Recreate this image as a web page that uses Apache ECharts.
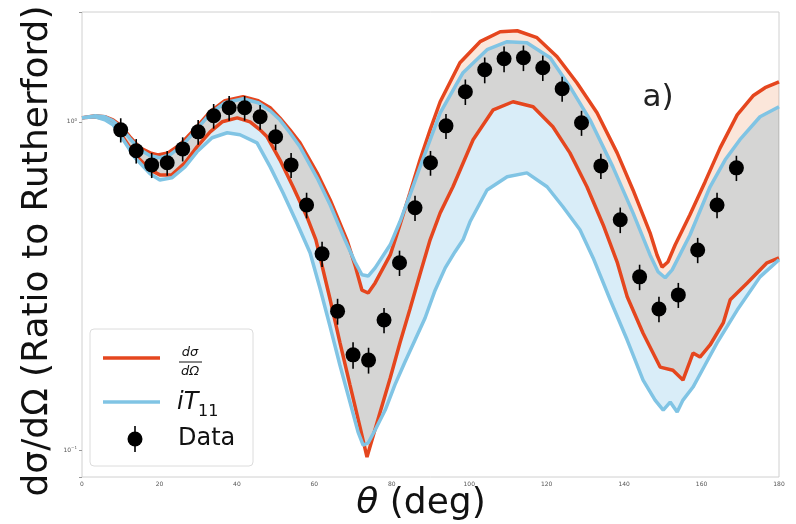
<!DOCTYPE html>
<html>
<head>
<meta charset="utf-8">
<script src="https://cdn.jsdelivr.net/npm/echarts@6/dist/echarts.min.js"></script>
<style>
  html, body { margin: 0; padding: 0; background: #ffffff; }
  #chart { width: 796px; height: 524px; }
</style>
</head>
<body>
<div id="chart"></div>
<script>
// Axis ticks
const xTicks = [0, 20, 40, 60, 80, 100, 120, 140, 160, 180];
const yTickValues = [0.1, 1];

// Measured cross section (ratio to Rutherford) with uncertainties
const dataTheta = [10, 14, 18, 22, 26, 30, 34, 38, 42, 46, 50, 54, 58, 62, 66, 70, 74, 78, 82, 86, 90, 94,
  99, 104, 109, 114, 119, 124, 129, 134, 139, 144, 149, 154, 159, 164, 169];
const dataValue = [0.945, 0.816, 0.739, 0.750, 0.827, 0.932, 1.043, 1.103, 1.103, 1.036, 0.900, 0.739, 0.558,
  0.396, 0.265, 0.195, 0.188, 0.249, 0.372, 0.547, 0.750, 0.972,
  1.235, 1.440, 1.556, 1.567, 1.461, 1.261, 0.993, 0.734, 0.503, 0.337, 0.269, 0.297, 0.407, 0.558, 0.724];
const dataError = [0.08, 0.07, 0.065, 0.065, 0.07, 0.08, 0.09, 0.095, 0.095, 0.09, 0.08, 0.065, 0.05,
  0.035, 0.024, 0.018, 0.017, 0.022, 0.033, 0.048, 0.065, 0.085,
  0.11, 0.13, 0.14, 0.14, 0.13, 0.11, 0.087, 0.065, 0.045, 0.03, 0.024, 0.026, 0.036, 0.05, 0.064];

// dσ/dΩ band: upper and lower edges
const xsUpperTheta = [0, 3.4, 5.9, 8.0, 9.8, 12.4, 15.0, 17.6, 19.6, 22.2, 25.3, 29.7, 33.1, 36.9, 41.6, 45.5,
  48.6, 51.1, 53.7, 56.3, 60.7, 64.1, 68.4, 70.5, 72.3, 73.9, 75.7, 79.6, 82.1, 84.7, 87.3, 89.9, 92.5,
  97.6, 102.8, 108.0, 112.4, 117.5, 122.7, 127.8, 133.0, 138.2, 142.3, 146.7, 148.5, 149.8, 151.3, 153.2,
  157.0, 160.9, 164.8, 169.2, 173.3, 176.4, 180];
const xsUpperValue = [1.028, 1.043, 1.036, 1.014, 0.979, 0.900, 0.833, 0.804, 0.793, 0.804, 0.851, 0.966, 1.073,
  1.159, 1.192, 1.159, 1.103, 1.028, 0.945, 0.863, 0.699, 0.578, 0.437, 0.366, 0.307, 0.301, 0.323, 0.393,
  0.485, 0.608, 0.766, 0.945, 1.151, 1.513, 1.754, 1.881, 1.894, 1.804, 1.578, 1.315, 1.065, 0.804, 0.620,
  0.459, 0.393, 0.361, 0.374, 0.422, 0.521, 0.656, 0.833, 1.050, 1.200, 1.270, 1.324];
const xsLowerTheta = [0, 3.4, 5.9, 8.0, 9.8, 13.7, 17.6, 20.1, 23.2, 26.6, 29.7, 33.1, 36.2, 40.1, 43.4, 46.0,
  47.8, 51.1, 54.5, 58.1, 60.4, 64.1, 66.6, 69.2, 71.8, 73.6, 77.0, 79.6, 82.1, 84.7, 87.3, 89.9, 92.5,
  95.8, 101.0, 106.2, 111.3, 116.5, 121.6, 126.0, 130.4, 134.6, 138.2, 140.8, 144.9, 149.3, 152.6, 155.2,
  157.8, 159.6, 162.2, 165.6, 167.4, 171.8, 176.9, 180];
const xsLowerValue = [1.028, 1.036, 1.021, 0.993, 0.926, 0.793, 0.714, 0.689, 0.689, 0.750, 0.839, 0.932, 1.000,
  1.028, 1.000, 0.945, 0.900, 0.766, 0.634, 0.513, 0.437, 0.287, 0.213, 0.158, 0.1175, 0.0952, 0.1306, 0.1658,
  0.212, 0.269, 0.344, 0.437, 0.528, 0.634, 0.882, 1.088, 1.151, 1.111, 0.966, 0.804, 0.634, 0.485, 0.374,
  0.293, 0.227, 0.179, 0.175, 0.1634, 0.1975, 0.192, 0.209, 0.244, 0.287, 0.323, 0.372, 0.385];

// iT11 band: upper and lower edges
const itUpperTheta = [0, 3.4, 5.9, 8.0, 9.8, 12.4, 15.0, 17.6, 20.1, 22.7, 25.8, 29.7, 33.1, 36.9, 41.6, 45.5,
  48.6, 51.1, 53.7, 56.3, 60.7, 64.1, 67.9, 70.5, 72.3, 73.9, 75.7, 79.6, 82.1, 84.7, 87.3, 92.5, 98.4,
  104.6, 109.8, 114.9, 120.9, 126.0, 131.2, 137.1, 142.3, 146.7, 148.8, 150.6, 152.4, 157.0, 162.2, 166.1,
  169.9, 175.1, 180];
const itUpperValue = [1.028, 1.043, 1.036, 1.007, 0.966, 0.888, 0.822, 0.788, 0.777, 0.793, 0.845, 0.952, 1.058,
  1.143, 1.175, 1.143, 1.080, 1.014, 0.926, 0.839, 0.675, 0.558, 0.437, 0.374, 0.342, 0.339, 0.359, 0.422,
  0.496, 0.599, 0.729, 1.065, 1.411, 1.658, 1.754, 1.741, 1.567, 1.279, 1.014, 0.729, 0.528, 0.393, 0.349,
  0.335, 0.354, 0.452, 0.634, 0.766, 0.882, 1.036, 1.111];
const itLowerTheta = [0, 3.4, 5.9, 8.0, 9.8, 13.7, 17.6, 20.1, 23.2, 26.6, 29.7, 33.6, 37.5, 40.8, 45.2, 48.6,
  51.9, 55.5, 58.9, 61.5, 64.1, 66.6, 69.2, 71.3, 72.6, 73.9, 75.7, 78.3, 80.8, 83.4, 86.0, 88.6, 91.2,
  93.8, 96.3, 98.4, 100.2, 104.6, 109.8, 114.9, 120.1, 124.2, 128.6, 132.0, 136.4, 140.8, 144.9, 148.0,
  150.1, 151.9, 153.7, 155.2, 157.8, 160.9, 164.0, 169.2, 175.1, 180];
const itLowerValue = [1.028, 1.036, 1.014, 0.979, 0.913, 0.777, 0.694, 0.665, 0.675, 0.729, 0.810, 0.894, 0.926,
  0.913, 0.863, 0.729, 0.608, 0.492, 0.399, 0.310, 0.237, 0.1816, 0.140, 0.1135, 0.1036, 0.1051, 0.1151,
  0.1324, 0.158, 0.1855, 0.2164, 0.2526, 0.307, 0.359, 0.4015, 0.437, 0.496, 0.620, 0.680, 0.699, 0.634,
  0.551, 0.469, 0.385, 0.287, 0.2164, 0.1634, 0.142, 0.1324, 0.140, 0.1306, 0.142, 0.1556, 0.1816, 0.212,
  0.267, 0.337, 0.380];

const RED = '#e5461e';
const BLUE = '#80c4e4';
const FONT = '"DejaVu Sans", sans-serif';

function zip(xs, ys) { return xs.map((x, i) => [x, ys[i]]); }

// Shaded band between an upper and a lower edge; the two bands are multiplied
// together so that their overlap comes out grey
function bandSeries(upT, upV, loT, loV, fill) {
  return {
    type: 'custom',
    coordinateSystem: 'cartesian2d',
    silent: true,
    z: 1,
    blendMode: 'multiply',
    data: [[90, 1]],
    renderItem: function (params, api) {
      const pts = [];
      for (let i = 0; i < upT.length; i++) pts.push(api.coord([upT[i], upV[i]]));
      for (let i = loT.length - 1; i >= 0; i--) pts.push(api.coord([loT[i], loV[i]]));
      return { type: 'polygon', shape: { points: pts }, style: { fill: fill, blend: 'multiply' } };
    }
  };
}

function edgeSeries(t, v, color, z) {
  return {
    type: 'line', data: zip(t, v), showSymbol: false, silent: true, z: z,
    lineStyle: { color: color, width: 3.5 }
  };
}

const chart = echarts.init(document.getElementById('chart'), null, { renderer: 'canvas' });

chart.setOption({
  backgroundColor: '#ffffff',
  animation: false,
  grid: { left: 82, right: 17, top: 12, bottom: 47, show: true, borderColor: '#d0d0d0', borderWidth: 1 },
  xAxis: {
    type: 'value', min: xTicks[0], max: xTicks[xTicks.length - 1], interval: 20,
    axisLine: { show: false }, axisTick: { show: false }, splitLine: { show: false },
    axisLabel: { fontSize: 6, color: '#555', margin: 4, fontFamily: FONT }
  },
  yAxis: {
    type: 'log', logBase: 10, min: 0.0828, max: 2.16,
    axisLine: { show: false }, splitLine: { show: false },
    axisTick: { show: true, length: 3, lineStyle: { color: '#999' } },
    axisLabel: {
      margin: 5, color: '#555', fontFamily: FONT,
      formatter: function (v) {
        if (Math.abs(v - yTickValues[1]) < 1e-6) return '{b|10}{s|0}';
        if (Math.abs(v - yTickValues[0]) < 1e-7) return '{b|10}{s|\u22121}';
        return '';
      },
      rich: {
        b: { fontSize: 6, color: '#555', fontFamily: FONT },
        s: { fontSize: 4, color: '#555', fontFamily: FONT, verticalAlign: 'top', padding: [0, 0, 4, 0] }
      }
    }
  },
  series: [
    bandSeries(xsUpperTheta, xsUpperValue, xsLowerTheta, xsLowerValue, '#fbe6da'),
    bandSeries(itUpperTheta, itUpperValue, itLowerTheta, itLowerValue, '#d9edf8'),
    edgeSeries(xsUpperTheta, xsUpperValue, RED, 2),
    edgeSeries(xsLowerTheta, xsLowerValue, RED, 2),
    edgeSeries(itUpperTheta, itUpperValue, BLUE, 3),
    edgeSeries(itLowerTheta, itLowerValue, BLUE, 3),
    {
      // vertical error bars
      type: 'custom', coordinateSystem: 'cartesian2d', silent: true, z: 4,
      data: dataTheta.map((t, i) => [t, dataValue[i], dataError[i]]),
      renderItem: function (params, api) {
        const t = api.value(0), v = api.value(1), e = api.value(2);
        const a = api.coord([t, v - e]);
        const b = api.coord([t, v + e]);
        return { type: 'line', shape: { x1: a[0], y1: a[1], x2: b[0], y2: b[1] },
          style: { stroke: '#000', lineWidth: 1.6 } };
      }
    },
    {
      type: 'scatter', data: zip(dataTheta, dataValue), symbol: 'circle', symbolSize: 15, z: 5,
      itemStyle: { color: '#000', opacity: 1 }, silent: true
    }
  ],
  graphic: [
    { type: 'text', x: 38, y: 251, rotation: Math.PI / 2,
      style: { text: 'd\u03c3/d\u03a9 (Ratio to Rutherford)', font: '36px ' + FONT, fill: '#111',
        align: 'center', verticalAlign: 'middle' } },
    { type: 'text', x: 421, y: 504,
      style: { text: '{i|\u03b8} (deg)', align: 'center', verticalAlign: 'middle', fill: '#111',
        font: '36px ' + FONT,
        rich: { i: { font: 'italic 36px ' + FONT, fill: '#111' } } } },
    { type: 'text', x: 658, y: 98,
      style: { text: 'a)', font: '31px ' + FONT, fill: '#222', align: 'center', verticalAlign: 'middle' } },
    // legend
    { type: 'rect', shape: { x: 90, y: 329, width: 163, height: 137, r: 4 }, z: 20,
      style: { fill: 'rgba(255,255,255,0.8)', stroke: '#dcdcdc', lineWidth: 1 } },
    { type: 'line', shape: { x1: 103, y1: 358, x2: 160, y2: 358 }, z: 21,
      style: { stroke: RED, lineWidth: 3.5 } },
    { type: 'text', x: 190, y: 353, z: 21,
      style: { text: 'd\u03c3', font: 'italic 13px ' + FONT, fill: '#111', align: 'center', verticalAlign: 'middle' } },
    { type: 'line', shape: { x1: 179, y1: 362, x2: 202, y2: 362 }, z: 21, style: { stroke: '#111', lineWidth: 1 } },
    { type: 'text', x: 190, y: 372, z: 21,
      style: { text: 'd\u03a9', font: 'italic 13px ' + FONT, fill: '#111', align: 'center', verticalAlign: 'middle' } },
    { type: 'line', shape: { x1: 103, y1: 402, x2: 160, y2: 402 }, z: 21,
      style: { stroke: BLUE, lineWidth: 3.5 } },
    { type: 'text', x: 177, y: 403, z: 21,
      style: { text: 'iT', font: 'italic 24px ' + FONT, fill: '#111', align: 'left', verticalAlign: 'middle' } },
    { type: 'text', x: 198, y: 412, z: 21,
      style: { text: '11', font: '16px ' + FONT, fill: '#111', align: 'left', verticalAlign: 'middle' } },
    { type: 'line', shape: { x1: 135, y1: 426, x2: 135, y2: 452 }, z: 21, style: { stroke: '#000', lineWidth: 1.6 } },
    { type: 'circle', shape: { cx: 135, cy: 439, r: 7.5 }, z: 21, style: { fill: '#000' } },
    { type: 'text', x: 178, y: 439, z: 21,
      style: { text: 'Data', font: '24px ' + FONT, fill: '#111', align: 'left', verticalAlign: 'middle' } }
  ]
});
</script>
</body>
</html>
